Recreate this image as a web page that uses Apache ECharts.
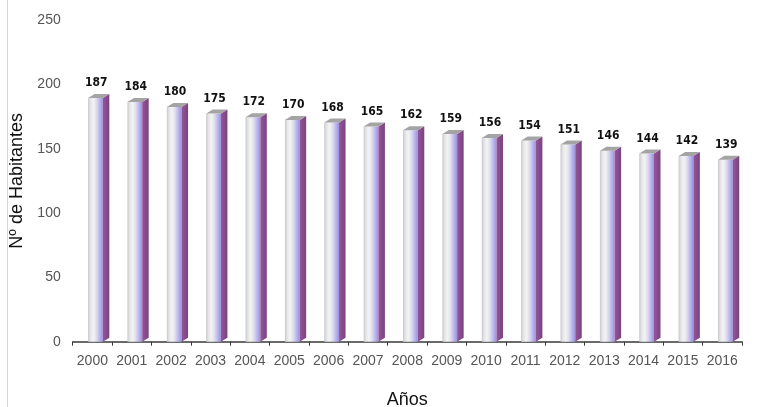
<!DOCTYPE html>
<html>
<head>
<meta charset="utf-8">
<script src="https://cdn.jsdelivr.net/npm/echarts@6/dist/echarts.min.js"></script>
<style>html,body{margin:0;padding:0;background:#fff;}#c{width:777px;height:407px;}</style>
</head>
<body>
<div id="c"></div>
<script>
const years = ['2000','2001','2002','2003','2004','2005','2006','2007','2008','2009','2010','2011','2012','2013','2014','2015','2016'];
const habitantes = [187,184,180,175,172,170,168,165,162,159,156,154,151,146,144,142,139];
const yTicks = [0,50,100,150,200,250];

const chart = echarts.init(document.getElementById('c'), null, {renderer:'canvas'});
const frontGrad = new echarts.graphic.LinearGradient(0,0,1,0,[
  {offset:0, color:'#c4c8cc'},
  {offset:0.15, color:'#e4e4e6'},
  {offset:0.35, color:'#f4f4f4'},
  {offset:0.55, color:'#e0e0ec'},
  {offset:0.75, color:'#c0bcf0'},
  {offset:1, color:'#9a92dc'}
]);
const sideGrad = new echarts.graphic.LinearGradient(0,0,1,0,[
  {offset:0, color:'#94569a'},
  {offset:1, color:'#7c4280'}
]);
const FONT = '"Liberation Sans", Arial, sans-serif';

chart.setOption({
  animation:false,
  grid:{left:72.7, right:35, top:20, bottom:65.3, containLabel:false, outerBoundsMode:'none'},
  graphic:[{type:'line', shape:{x1:7.5,y1:0,x2:7.5,y2:407}, style:{stroke:'#d4d4d4', lineWidth:1}}],
  xAxis:{
    type:'category', data:years, name:'Años', nameLocation:'middle', nameGap:49,
    nameTextStyle:{fontFamily:FONT, fontSize:18, color:'#111'},
    axisLine:{show:true, lineStyle:{color:'#3a3a3a', width:1.5}},
    axisTick:{show:true, length:4, interval:0, lineStyle:{color:'#3a3a3a'}},
    axisLabel:{fontFamily:FONT, fontSize:14, color:'#555', margin:12, interval:0},
    splitLine:{show:false}
  },
  yAxis:{
    type:'value', min:yTicks[0], max:yTicks[yTicks.length-1], interval:50,
    name:'Nº de Habitantes', nameLocation:'middle', nameGap:43, nameRotate:90,
    nameTextStyle:{fontFamily:FONT, fontSize:18, color:'#111'},
    axisLine:{show:false}, axisTick:{show:false}, splitLine:{show:false},
    axisLabel:{fontFamily:FONT, fontSize:14, color:'#555', margin:12}
  },
  series:[{
    type:'custom',
    encode:{x:0, y:1},
    data: habitantes.map((v,i)=>[i,v]),
    renderItem:function(params, api){
      const p = api.coord([api.value(0), api.value(1)]);
      const base = api.coord([api.value(0), 0]);
      const w = api.size([1,0])[0];
      const cx = p[0];
      const fl = cx - w*0.11, fr = cx + w*0.265, sr = cx + w*0.43;
      const top = p[1]-3, bot = base[1];
      const d = 4, dx = sr - fr;
      return {type:'group', children:[
        {type:'rect', shape:{x:fl, y:top, width:fr-fl, height:bot-top}, style:{fill:frontGrad}},
        {type:'polygon', shape:{points:[[fr,top],[sr,top-d],[sr,bot-d],[fr,bot]]}, style:{fill:sideGrad}},
        {type:'polygon', shape:{points:[[fl,top],[fr,top],[sr,top-d],[fl+dx,top-d]]}, style:{fill:'#a4a4a4'}},
        {type:'text', style:{text:String(api.value(1)), x:cx + w*0.1, y:top-d-5, align:'center', verticalAlign:'bottom',
          font:'bold 12px "Liberation Sans Narrow", "DejaVu Sans Condensed", Arial', fill:'#111'}}
      ]};
    }
  }]
});
</script>
</body>
</html>
